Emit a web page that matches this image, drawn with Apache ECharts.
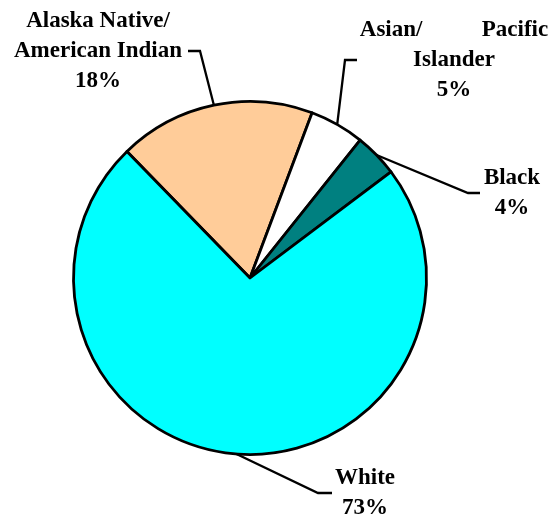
<!DOCTYPE html>
<html>
<head>
<meta charset="utf-8">
<script src="https://cdn.jsdelivr.net/npm/echarts@6/dist/echarts.min.js"></script>
<style>
  html, body { margin: 0; padding: 0; background: #ffffff; }
  #chart { width: 549px; height: 518px; }
</style>
</head>
<body>
<div id="chart"></div>
<script>
// Population by race, share of total (percent)
var categories = ['Alaska Native/ American Indian', 'Asian/ Pacific Islander', 'Black', 'White'];
var shares = [18, 5, 4, 73];
var sliceColors = ['#FFCC99', '#FFFFFF', '#008080', '#00FFFF'];

// Label placement: box centre and the elbow/end points of each leader line
var labelPlacement = [
  { cx: 98,  cy: 51,  elbow: [200, 51],  end: [188, 51] },
  { cx: 454, cy: 60,  elbow: [345, 60],  end: [357, 60] },
  { cx: 512, cy: 193, elbow: [468, 193], end: [480, 193] },
  { cx: 365, cy: 493, elbow: [318, 493], end: [332, 493] }
];

var pieCenter = [250, 278];
var pieRadius = 176.5;
var startAngle = 134.2;

function labelText(i) {
  var pct = shares[i] + '%';
  if (i === 0) return 'Alaska Native/\nAmerican Indian\n' + pct;
  if (i === 1) return '{l|Asian/}{r|Pacific}\nIslander\n' + pct;
  return categories[i] + '\n' + pct;
}

var chart = echarts.init(document.getElementById('chart'), null, { renderer: 'canvas' });

chart.setOption({
  backgroundColor: '#ffffff',
  animation: false,
  series: [{
    type: 'pie',
    center: pieCenter,
    radius: pieRadius,
    startAngle: startAngle,
    clockwise: true,
    avoidLabelOverlap: false,
    data: categories.map(function (name, i) {
      return { name: name, value: shares[i], itemStyle: { color: sliceColors[i] } };
    }),
    itemStyle: { borderColor: '#000000', borderWidth: 2.8 },
    emphasis: { disabled: true },
    label: {
      show: true,
      position: 'outside',
      overflow: 'none',
      formatter: function (p) { return labelText(p.dataIndex); },
      fontFamily: 'Liberation Serif',
      fontWeight: 'bold',
      fontSize: 23,
      lineHeight: 30,
      color: '#000000',
      align: 'center',
      rich: {
        l: { fontFamily: 'Liberation Serif', fontWeight: 'bold', fontSize: 23, lineHeight: 30, width: 122, align: 'left' },
        r: { fontFamily: 'Liberation Serif', fontWeight: 'bold', fontSize: 23, lineHeight: 30, align: 'right' }
      }
    },
    labelLine: {
      show: true,
      smooth: false,
      lineStyle: { color: '#000000', width: 2.3 }
    },
    labelLayout: function (params) {
      var pl = labelPlacement[params.dataIndex];
      var anchor;
      if (params.labelLinePoints && params.labelLinePoints[0]) {
        anchor = params.labelLinePoints[0];
      } else {
        // mid-angle of the slice on its outer edge
        var total = shares.reduce(function (a, b) { return a + b; }, 0);
        var before = 0;
        for (var k = 0; k < params.dataIndex; k++) before += shares[k];
        var mid = (startAngle - (before + shares[params.dataIndex] / 2) / total * 360) * Math.PI / 180;
        anchor = [pieCenter[0] + pieRadius * Math.cos(mid), pieCenter[1] - pieRadius * Math.sin(mid)];
      }
      return {
        x: pl.cx,
        y: pl.cy,
        align: 'center',
        verticalAlign: 'middle',
        labelLinePoints: [anchor, pl.elbow, pl.end]
      };
    }
  }]
});
</script>
</body>
</html>
